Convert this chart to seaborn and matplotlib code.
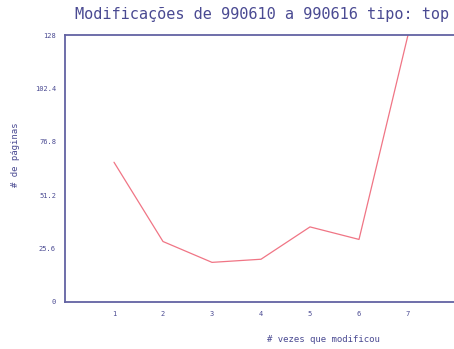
import matplotlib
matplotlib.use("Agg")
import matplotlib.pyplot as plt
import seaborn as sns
import pandas as pd

vezes = [1, 2, 3, 4, 5, 6, 7]
paginas = [67, 29, 19, 20.5, 36, 30, 128]
y_ticks = [0, 25.6, 51.2, 76.8, 102.4, 128]
y_tick_labels = ["0", "25.6", "51.2", "76.8", "102.4", "128"]

df = pd.DataFrame({"vezes": vezes, "paginas": paginas})

sns.set_style("white")
plt.rcParams["font.family"] = ["DejaVu Sans Mono"]

axis_color = "#6262a2"
text_color = "#4a4a92"

fig = plt.figure(figsize=(4.54, 3.49), dpi=100)
ax = fig.add_axes([65 / 454, 47 / 349, 392 / 454, 267 / 349])
sns.lineplot(data=df, x="vezes", y="paginas", ax=ax, color="#f07585", linewidth=0.9)

ax.set_xlim(0, 8)
ax.set_ylim(0, 128)
ax.set_xticks(vezes)
ax.set_xticklabels([str(v) for v in vezes])
ax.set_yticks(y_ticks)
ax.set_yticklabels(y_tick_labels)
ax.tick_params(direction="inout", length=5, width=1, color=axis_color,
               labelsize=5, labelcolor=text_color, pad=4)

for side in ["left", "bottom", "top"]:
    ax.spines[side].set_color(axis_color)
    ax.spines[side].set_linewidth(1.3)
ax.spines["right"].set_visible(False)

ax.set_xlabel("")
ax.set_ylabel("")
fig.text(262 / 454, 1 - 15 / 349, "Modificações de 990610 a 990616 tipo: top",
         ha="center", va="center", fontsize=11, color=text_color)
fig.text(15 / 454, 1 - 155 / 349, "# de páginas", rotation=90,
         ha="center", va="center", fontsize=6.5, color=text_color)
fig.text(323 / 454, 1 - 340 / 349, "# vezes que modificou",
         ha="center", va="center", fontsize=6.5, color=text_color)

fig.savefig("out.png", dpi=100, facecolor="white")
